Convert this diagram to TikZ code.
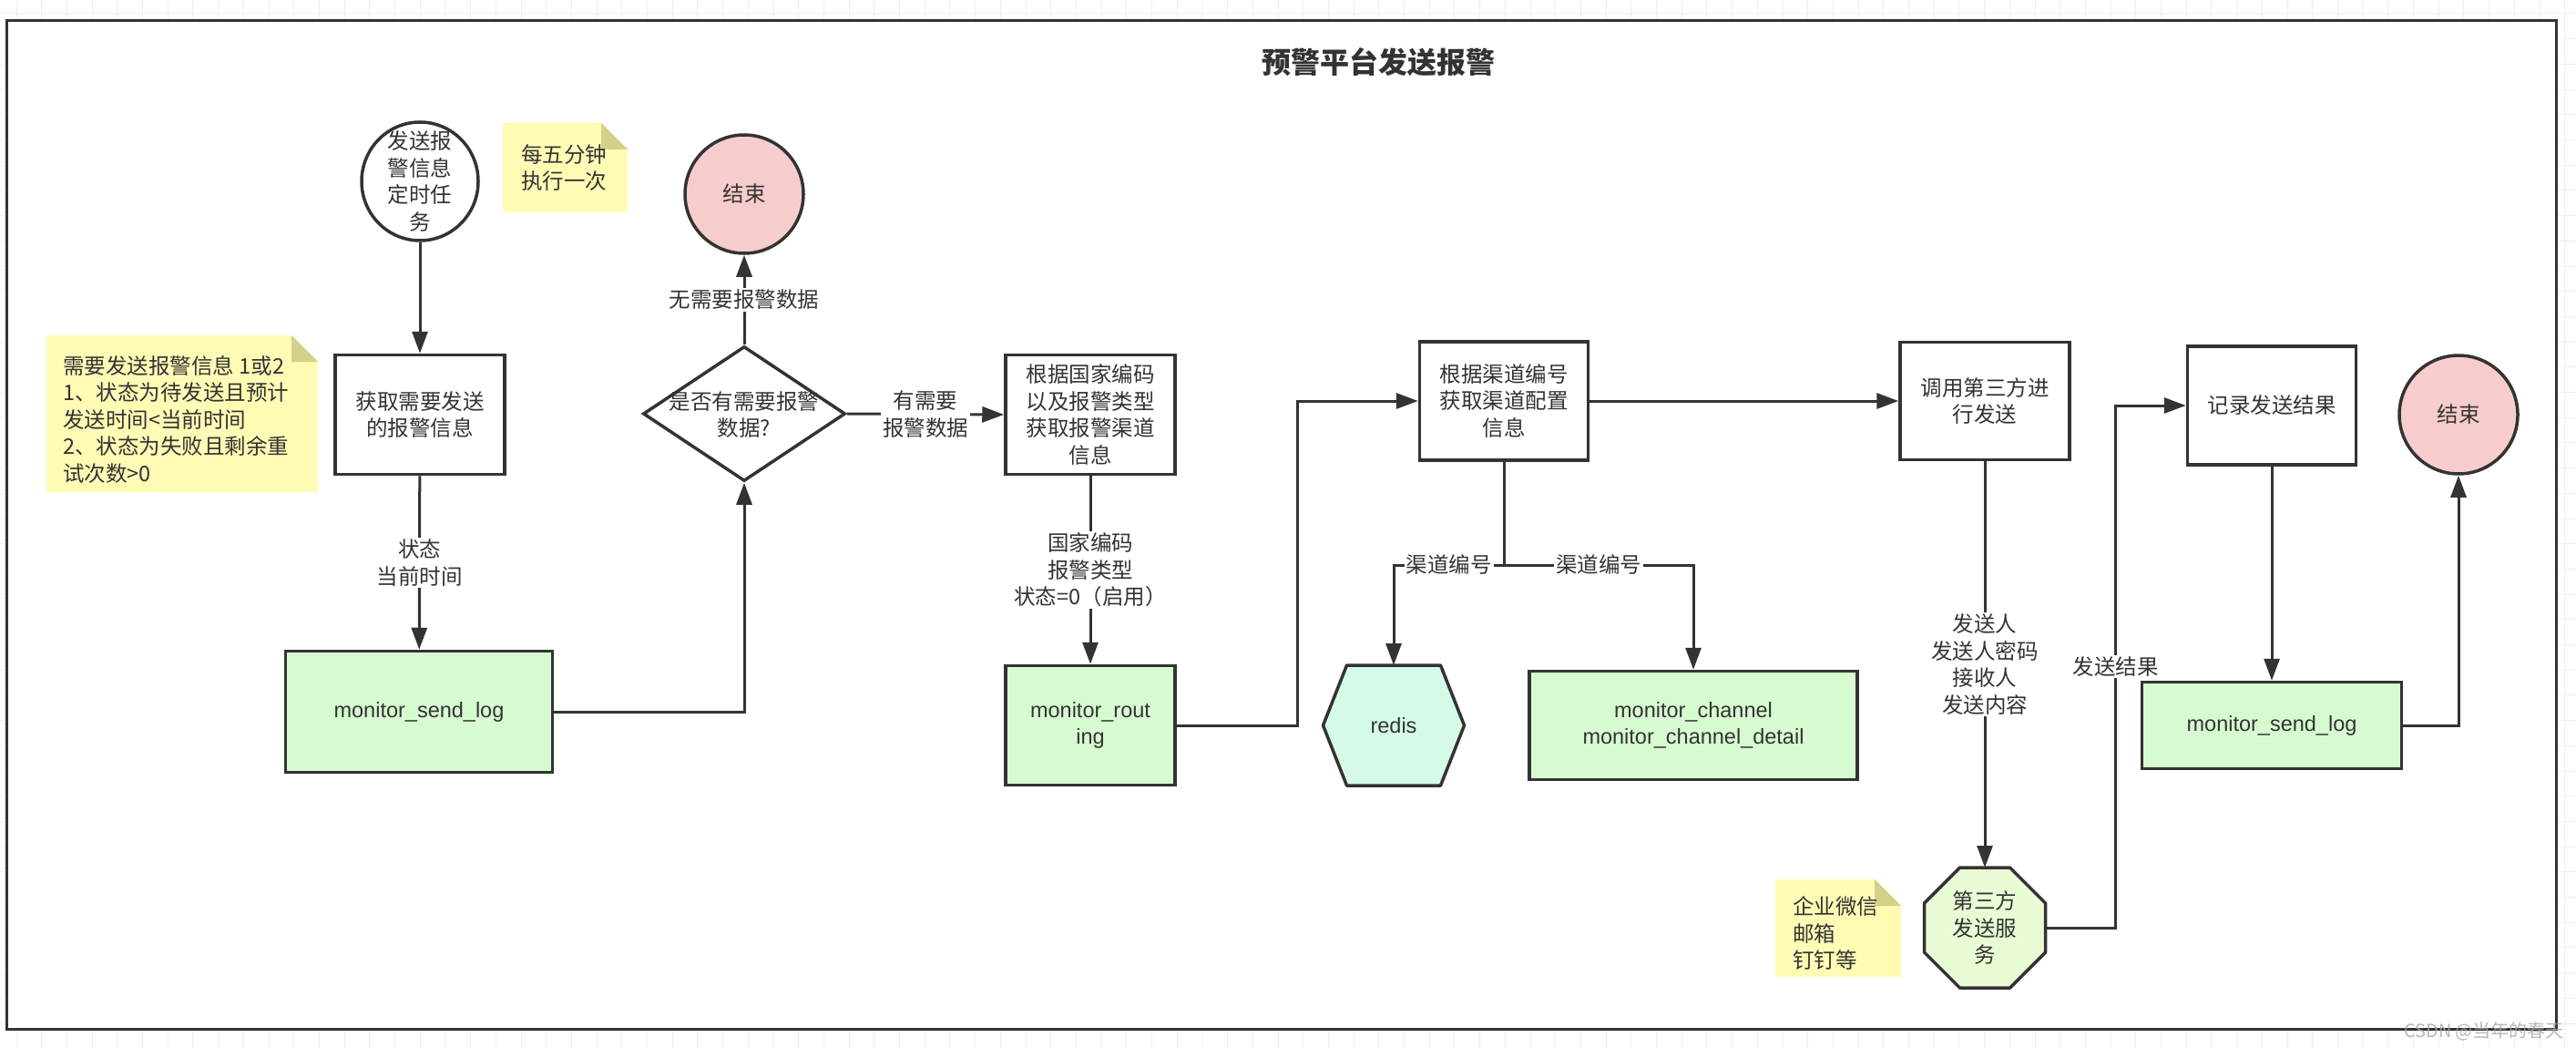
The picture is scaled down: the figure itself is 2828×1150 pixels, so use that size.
\documentclass[tikz,border=0pt]{standalone}
\usepackage{fontspec}
\setmainfont{Noto Sans CJK SC}
\newfontfamily\latf{Liberation Sans}
\usetikzlibrary{arrows.meta,shapes.geometric}
\definecolor{ln}{HTML}{333333}
\definecolor{grn}{HTML}{D6FBD0}
\definecolor{pnk}{HTML}{F6CDCC}
\definecolor{noteY}{HTML}{FFFBB5}
\definecolor{noteF}{HTML}{D3D08A}
\definecolor{cyanf}{HTML}{D5FBE8}
\definecolor{octf}{HTML}{E8FBD4}
\definecolor{gridc}{HTML}{EEEEEE}
\newcommand\myfs{\fontsize{23.5}{29.5}\selectfont}
\begin{document}
\begin{tikzpicture}[x=1pt,y=-1pt,
  box/.style={draw=ln, line width=3.5pt, fill=white, minimum width=186pt, minimum height=131pt, inner sep=0pt, align=center, font=\myfs, text=ln},
  tbl/.style={box, fill=grn, font=\myfs\latf},
  endc/.style={circle, draw=ln, line width=3.5pt, fill=pnk, minimum size=130pt, inner sep=0pt, font=\myfs, text=ln},
  txt/.style={inner sep=0pt, align=center, font=\myfs, text=ln},
  lbl/.style={fill=white, inner sep=2pt, align=center, font=\myfs, text=ln},
  conn/.style={draw=ln, line width=3pt, -{Triangle[length=24pt,width=17pt]}},
  plain/.style={draw=ln, line width=3pt},
  anchorbox/.style={inner sep=0pt, outer sep=0pt},
]
\useasboundingbox (0,0) rectangle (2828,1150);
% background grid
\foreach \i in {0,...,101} \draw[gridc, line width=1pt] ({18+\i*27.7},0) -- ({18+\i*27.7},1150);
\foreach \j in {0,...,41} \draw[gridc, line width=1pt] (0,{15+\j*27.7}) -- (2828,{15+\j*27.7});
% frame
\draw[ln, line width=3.5pt, fill=white] (7.5,22.5) rectangle (2806.5,1129.5);
\node[font=\fontsize{32}{38}\selectfont\bfseries, text=ln] (title) at (1513,68) {预警平台发送报警};

% notes
\node[anchorbox, minimum width=137pt, minimum height=98pt] (note1) at (620.5,184) {};
\node[anchorbox, minimum width=298pt, minimum height=172pt] (note2) at (200,454) {};
\node[anchorbox, minimum width=138pt, minimum height=107pt] (note3) at (2018,1018.5) {};
\foreach \n in {note1,note2,note3} {
  \fill[noteY] (\n.south west) -- (\n.south east) -- ([yshift=-29pt]\n.north east) -- ([xshift=-29pt]\n.north east) -- (\n.north west) -- cycle;
  \fill[noteF] ([xshift=-29pt]\n.north east) -- ([xshift=-29pt,yshift=-29pt]\n.north east) -- ([yshift=-29pt]\n.north east) -- cycle;
}
\node[txt, align=left, anchor=west] (note1txt) at (572,184) {每五分钟\\执行一次};
\node[txt, align=left, anchor=west] (note2txt) at (69,460) {需要发送报警信息 1或2\\1、状态为待发送且预计\\发送时间<当前时间\\2、状态为失败且剩余重\\试次数>0};
\node[txt, align=left, anchor=west] (note3txt) at (1968,1024) {企业微信\\邮箱\\钉钉等};

% nodes
\node[ellipse, draw=ln, fill=white, line width=3.5pt, minimum width=128pt, minimum height=130pt, inner sep=0pt] (start) at (461,199) {};
\node[txt] (starttxt) at (start.center) {发送报\\警信息\\定时任\\务};
\node[box] (get) at (461,455) {获取需要发送\\的报警信息};
\node[tbl, minimum width=293pt, minimum height=133pt] (log1) at (460,781) {monitor\_send\_log};
\node[diamond, draw=ln, fill=white, line width=3.5pt, minimum width=222pt, minimum height=148pt, inner sep=0pt] (dec) at (817,454) {};
\node[txt] (dectxt) at (817,455) {是否有需要报警\\数据?};
\node[endc] (end1) at (817,213) {结束};
\node[box] (route) at (1197,455) {根据国家编码\\以及报警类型\\获取报警渠道\\信息};
\node[tbl] (routing) at (1197,796) {monitor\_rout\\ing};
\node[box, minimum width=185pt, minimum height=130pt] (chan) at (1651,440) {根据渠道编号\\获取渠道配置\\信息};
\node[anchorbox, minimum width=155pt, minimum height=132pt] (redis) at (1530,796) {};
\filldraw[draw=ln, fill=cyanf, line width=3.5pt, line join=round] (redis.west) -- ([xshift=26pt]redis.north west) -- ([xshift=-26pt]redis.north east) -- (redis.east) -- ([xshift=-26pt]redis.south east) -- ([xshift=26pt]redis.south west) -- cycle;
\node[txt, font=\myfs\latf] (redistxt) at (redis.center) {redis};
\node[tbl, minimum width=360pt, minimum height=119pt] (mch) at (1859,796) {monitor\_channel\\monitor\_channel\_detail};
\node[box, minimum width=186pt, minimum height=129pt] (call) at (2179,440) {调用第三方进\\行发送};
\node[anchorbox, minimum width=133pt, minimum height=132pt] (tp) at (2179,1018) {};
\filldraw[draw=ln, fill=octf, line width=3.5pt, line join=round] ([xshift=39pt]tp.north west) -- ([xshift=-39pt]tp.north east) -- ([yshift=-39pt]tp.north east) -- ([yshift=39pt]tp.south east) -- ([xshift=-39pt]tp.south east) -- ([xshift=39pt]tp.south west) -- ([yshift=39pt]tp.south west) -- ([yshift=-39pt]tp.north west) -- cycle;
\node[txt] (tptxt) at (tp.center) {第三方\\发送服\\务};
\node[box, minimum width=185pt, minimum height=130pt] (rec) at (2494,445) {记录发送结果};
\node[tbl, minimum width=285pt, minimum height=95pt] (log2) at (2494,796) {monitor\_send\_log};
\node[endc] (end2) at (2699,455) {结束};

% connectors
\draw[conn] (start) -- (get);
\draw[conn] (get) -- node[lbl]{状态\\当前时间} (log1);
\draw[conn] (log1.east) -| (dec.south);
\draw[conn] (dec.north) -- node[lbl]{无需要报警数据} (end1.south);
\draw[conn] (dec.east) -- node[lbl]{有需要\\报警数据} (route.west);
\draw[conn] (route) -- node[lbl]{国家编码\\报警类型\\状态=0（启用）} (routing);
\draw[conn] (routing.east) -- ([xshift=133pt]routing.east) |- (chan.west);
\draw[conn] (chan.east) -- (call.west);
\coordinate (br) at (1651,620);
\draw[plain] (chan.south) -- (br);
\draw[conn] (br) -| node[lbl, pos=0.25]{渠道编号} (redis.north);
\draw[conn] (br) -| node[lbl, pos=0.25]{渠道编号} (mch.north);
\draw[conn] (call) -- node[lbl]{发送人\\发送人密码\\接收人\\发送内容} (tp.north);
\draw[conn] (tp.east) -- ([xshift=77pt]tp.east) |- node[lbl, pos=0.25]{发送结果} (rec.west);
\draw[conn] (rec) -- (log2);
\draw[conn] (log2.east) -| (end2.south);

\node[text=gray!70, opacity=0.8, font=\fontsize{20}{24}\selectfont, inner sep=0pt] (wm) at (2727,1132) {CSDN @当年的春天};
\end{tikzpicture}
\end{document}
